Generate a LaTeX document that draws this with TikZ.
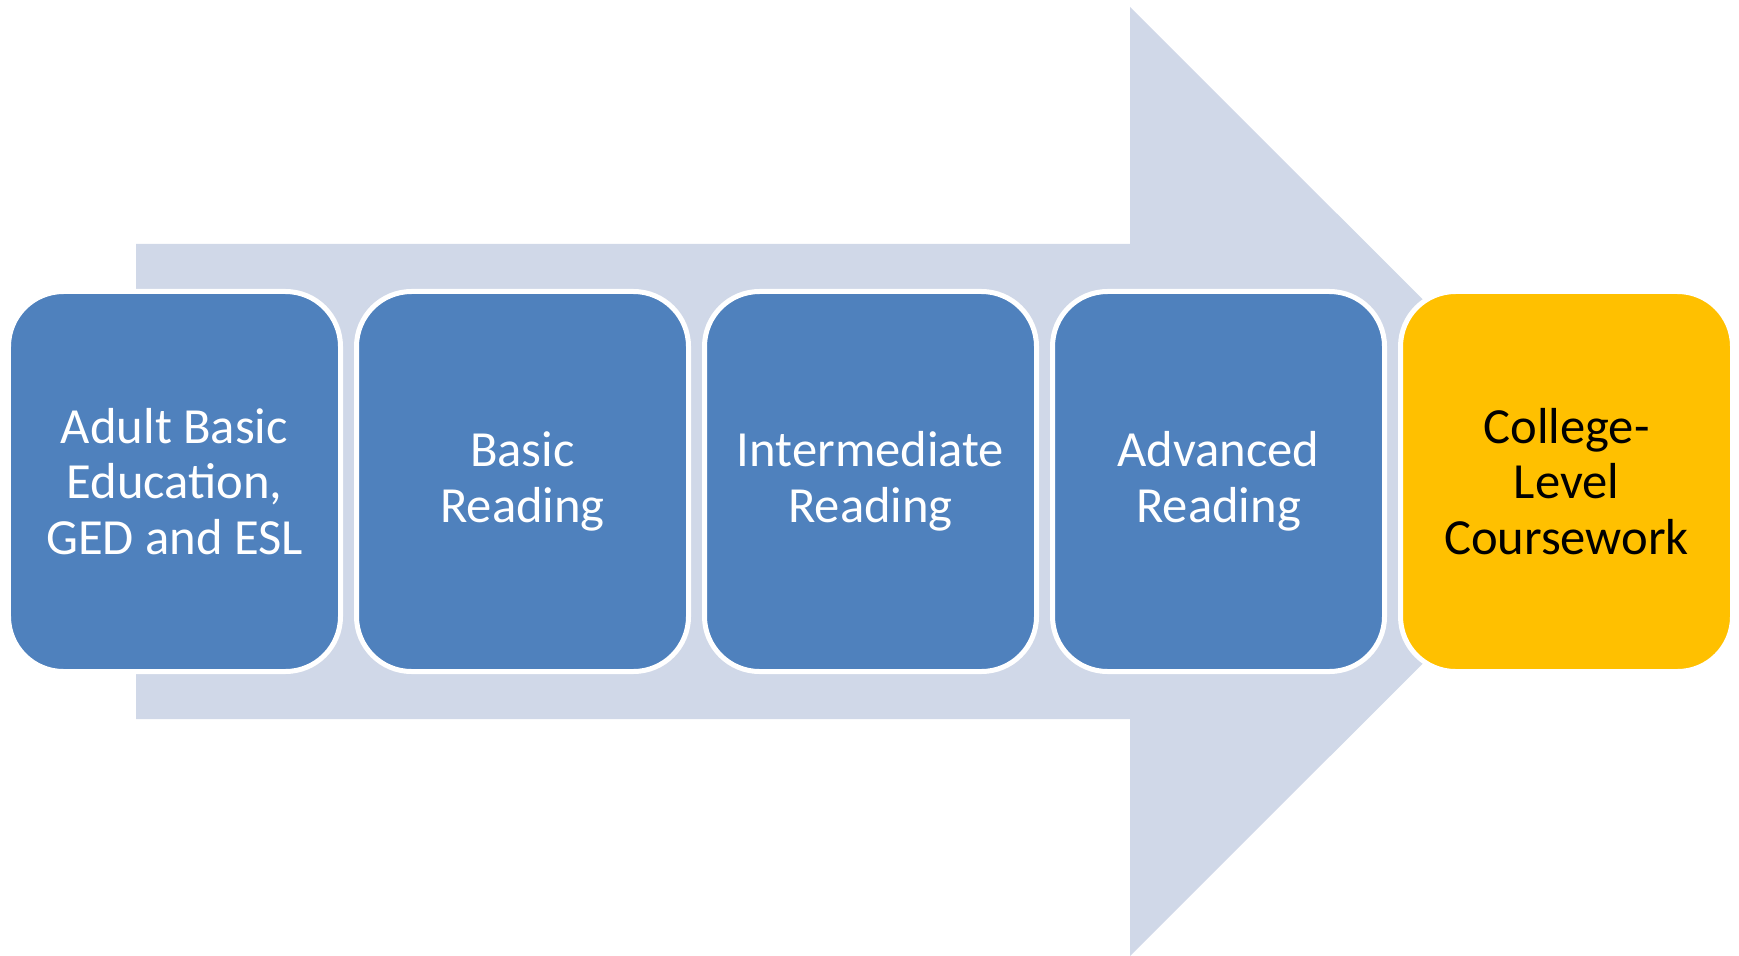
\documentclass[tikz,border=0pt]{standalone}
\usepackage{fontspec}
\setmainfont{Carlito}
\usepackage{tikz}
\usetikzlibrary{positioning,calc,backgrounds}
\usepackage{xcolor}
\definecolor{stageblue}{RGB}{79, 129, 189}
\definecolor{arrowgray}{RGB}{208, 216, 232}
\definecolor{goalgold}{RGB}{255, 192, 0}

\begin{document}
\begin{tikzpicture}[
    stage/.style={rectangle, draw=white, line width=0.05cm, rounded corners=0.55cm,
        minimum width=3.32cm, minimum height=3.80cm, align=center, inner sep=0pt,
        font=\fontsize{14.4pt}{15.8pt}\selectfont},
]
    \useasboundingbox (0,0) rectangle (17.39,9.55);

    % Big background arrow
    \fill[arrowgray] (1.36,7.11) -- (11.30,7.11) -- (11.30,9.48) -- (16.05,4.735)
        -- (11.30,-0.01) -- (11.30,2.36) -- (1.36,2.36) -- cycle;

    % Reading stages
    \foreach \i/\t in {1/{Adult Basic\\Education,\\GED and ESL}, 2/{Basic\\Reading},
                       3/{Intermediate\\Reading}, 4/{Advanced\\Reading}} {
        \node[stage, fill=stageblue, text=white] (s\i) at (1.745+3.48*\i-3.48, 4.735) {\t};
    }

    % Goal
    \node[stage, fill=goalgold, text=black] (college) at (15.665, 4.735)
        {College-\\Level\\Coursework};
\end{tikzpicture}
\end{document}
